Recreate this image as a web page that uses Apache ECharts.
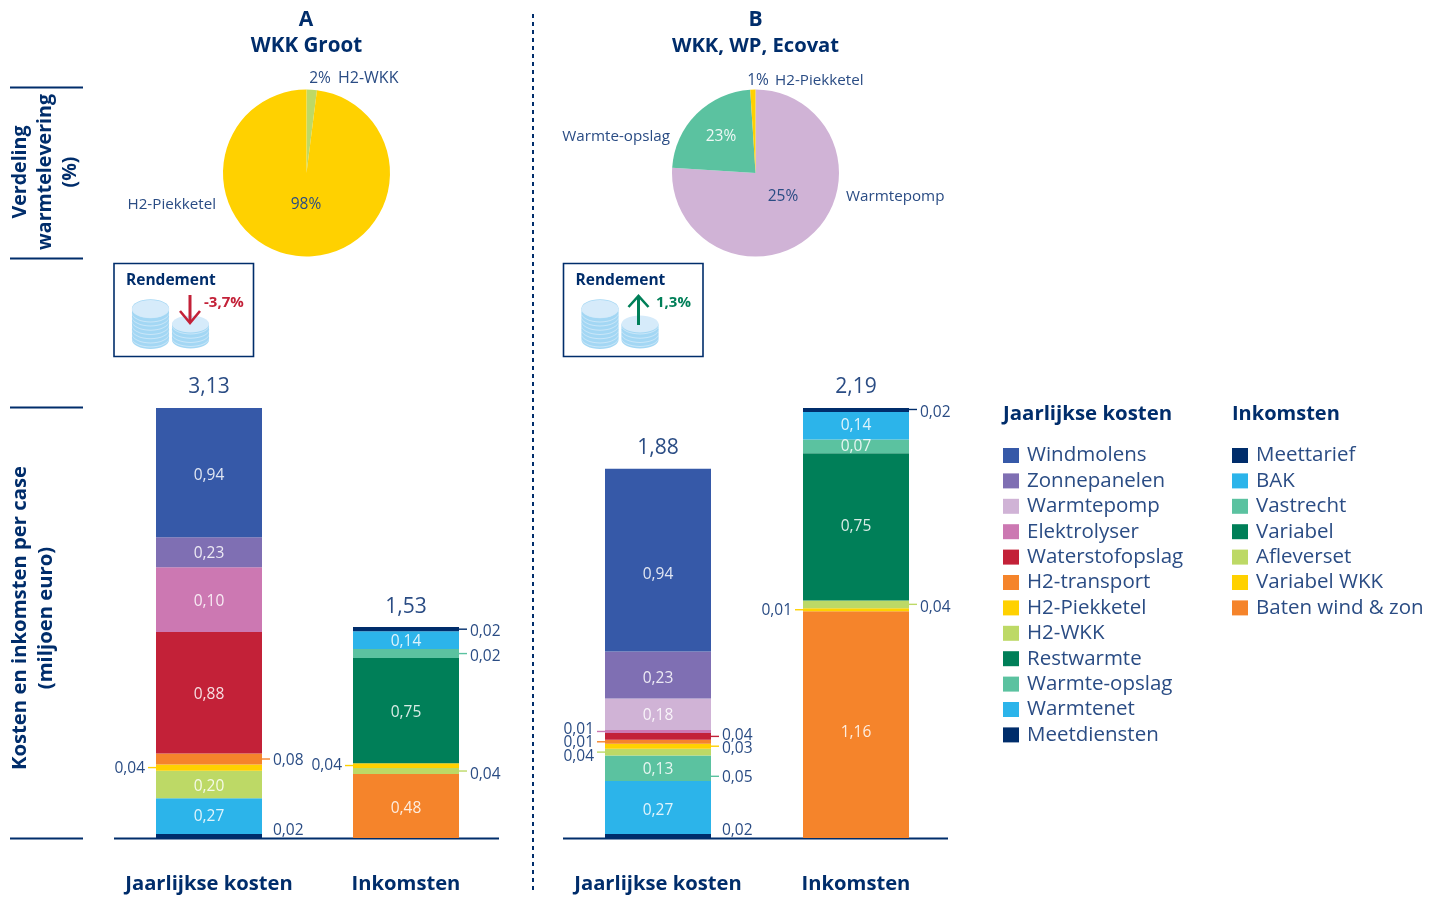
<!DOCTYPE html>
<html><head><meta charset="utf-8">
<script src="https://cdn.jsdelivr.net/npm/echarts@6/dist/echarts.min.js"></script>
<style>html,body{margin:0;background:#fff}#c{width:1438px;height:897px}</style></head>
<body><div id="c"></div>
<script>
// ---------- data ----------
const kostenLegend = ['Windmolens','Zonnepanelen','Warmtepomp','Elektrolyser','Waterstofopslag','H2-transport','H2-Piekketel','H2-WKK','Restwarmte','Warmte-opslag','Warmtenet','Meetdiensten'];
const inkomstenLegend = ['Meettarief','BAK','Vastrecht','Variabel','Afleverset','Variabel WKK','Baten wind & zon'];
const barCategories = ['Jaarlijkse kosten','Inkomsten'];

// stacks, bottom to top. Values are the heights, labels are the printed texts.
const aKostenNames  = ['Meetdiensten','Warmtenet','H2-WKK','H2-Piekketel','H2-transport','Waterstofopslag','Elektrolyser','Zonnepanelen','Windmolens'];
const aKostenValues = [0.03,0.26,0.20,0.045,0.08,0.885,0.47,0.22,0.94];
const aKostenLabels = ['','0,27','0,20','','','0,88','0,10','0,23','0,94'];
const aInkNames  = ['Baten wind & zon','Afleverset','Variabel WKK','Variabel','Vastrecht','BAK','Meettarief'];
const aInkValues = [0.465,0.045,0.035,0.765,0.065,0.13,0.03];
const aInkLabels = ['0,48','','','0,75','','0,14',''];
const bKostenNames  = ['Meetdiensten','Warmtenet','Warmte-opslag','Restwarmte','H2-WKK','H2-Piekketel','H2-transport','Waterstofopslag','Elektrolyser','Warmtepomp','Zonnepanelen','Windmolens'];
const bKostenValues = [0.02,0.27,0.13,0,0.035,0.025,0.02,0.035,0.015,0.16,0.24,0.93];
const bKostenLabels = ['','0,27','0,13','','','','','','','0,18','0,23','0,94'];
const bInkNames  = ['Baten wind & zon','Variabel WKK','Afleverset','Variabel','Vastrecht','BAK','Meettarief'];
const bInkValues = [1.155,0.015,0.04,0.75,0.07,0.14,0.025];
const bInkLabels = ['1,16','','','0,75','0,07','0,14',''];
const aTotals = ['3,13','1,53'];
const bTotals = ['1,88','2,19'];

const pieANames  = ['H2-WKK','H2-Piekketel'];
const pieAValues = [2,98];
const pieALabels = ['2%','98%'];
const pieBNames  = ['Warmtepomp','Warmte-opslag','H2-Piekketel'];
const pieBValues = [76,23,1];
const pieBLabels = ['25%','23%','1%'];

// ---------- style ----------
const navy='#002d6b', ink='#2a4c84', sans='"Open Sans",sans-serif';
const colors={Windmolens:'#3659a8',Zonnepanelen:'#7f6fb3',Warmtepomp:'#d0b3d6',Elektrolyser:'#cc78b2',Waterstofopslag:'#c32138','H2-transport':'#f5842b','H2-Piekketel':'#ffd100','H2-WKK':'#bdd966',Restwarmte:'#007f58','Warmte-opslag':'#5bc2a0',Warmtenet:'#2cb4ea',Meetdiensten:'#002d6b',
 Meettarief:'#002d6b',BAK:'#2cb4ea',Vastrecht:'#5bc2a0',Variabel:'#007f58',Afleverset:'#bdd966','Variabel WKK':'#ffd100','Baten wind & zon':'#f5842b'};

// callouts beside the bars: which segment they refer to, and how they are placed
const callouts=[
 [ // A
  {cat:0,seg:'Meetdiensten',text:'0,02',side:1,noTick:1,dy:-7},
  {cat:0,seg:'H2-transport',text:'0,08',side:1,dy:0},
  {cat:0,seg:'H2-Piekketel',text:'0,04',side:-1,dy:-1},
  {cat:1,seg:'Meettarief',text:'0,02',side:1,dy:1},
  {cat:1,seg:'Vastrecht',text:'0,02',side:1,dy:1.5},
  {cat:1,seg:'Variabel WKK',text:'0,04',side:-1,dy:-1},
  {cat:1,seg:'Afleverset',text:'0,04',side:1,dy:2}
 ],
 [ // B
  {cat:0,seg:'Meetdiensten',text:'0,02',side:1,noTick:1,dy:-7},
  {cat:0,seg:'Elektrolyser',text:'0,01',side:-1,dy:-3.5},
  {cat:0,seg:'Waterstofopslag',text:'0,04',side:1,dy:-2.5},
  {cat:0,seg:'H2-transport',text:'0,01',side:-1,dy:-1},
  {cat:0,seg:'H2-Piekketel',text:'0,03',side:1,dy:0.5},
  {cat:0,seg:'H2-WKK',text:'0,04',side:-1,dy:2.5},
  {cat:0,seg:'Warmte-opslag',text:'0,05',side:1,tickDy:8,dy:8},
  {cat:1,seg:'Meettarief',text:'0,02',side:1,dy:1.5},
  {cat:1,seg:'Variabel WKK',text:'0,01',side:-1,dy:-0.5},
  {cat:1,seg:'Afleverset',text:'0,04',side:1,dy:1.5}
 ]];
// printed labels that sit off the centre of their segment
const labelNudge={'0-Windmolens':2,'1-Windmolens':13,'1-Baten wind & zon':6,'1-Zonnepanelen':2,'1-Warmtenet':2,'1-BAK':-2,'1-Vastrecht':-1,'1-Variabel':-2,'0-Baten wind & zon':1,'0-H2-WKK':1,'0-Warmtenet':-1};

const panels=[
 {stacks:[[aKostenNames,aKostenValues,aKostenLabels],[aInkNames,aInkValues,aInkLabels]],totals:aTotals,max:3.13,left:110.5,width:394},
 {stacks:[[bKostenNames,bKostenValues,bKostenLabels],[bInkNames,bInkValues,bInkLabels]],totals:bTotals,max:2.19,left:559,width:396}
];
const BAR=106, TY=1.5;

const series=[], grids=[], xAxes=[], yAxes=[];
panels.forEach((p,g)=>{
  grids.push({left:p.left,width:p.width,top:408,height:430});
  xAxes.push({gridIndex:g,type:'category',data:barCategories,axisLine:{show:false},axisTick:{show:false},
    axisLabel:{margin:36.5,interval:0,color:navy,fontFamily:sans,fontWeight:'bold',fontSize:20.2}});
  yAxes.push({gridIndex:g,type:'value',min:0,max:p.max,show:false,splitLine:{show:false}});
  const mids={0:{},1:{}};
  p.stacks.forEach(([names,vals,labs],cat)=>{
    let cum=0;
    names.forEach((n,i)=>{
      mids[cat][n]=cum+vals[i]/2; cum+=vals[i];
      const d=[ '-','-' ]; d[cat]=vals[i];
      series.push({type:'bar',name:n,xAxisIndex:g,yAxisIndex:g,stack:'s'+g,barWidth:BAR,data:d,
        itemStyle:{color:colors[n]},
        label:{show:!!labs[i],position:'inside',offset:[0,TY+(labelNudge[g+'-'+n]||0)],formatter:()=>labs[i],color:'rgba(255,255,255,0.85)',fontFamily:sans,fontSize:15.5,fontWeight:400}});
    });
  });
  series.push({type:'scatter',name:'Totaal'+g,xAxisIndex:g,yAxisIndex:g,symbolSize:0,clip:false,silent:true,itemStyle:{opacity:1},
    data:p.totals.map((t,c)=>[c,p.stacks[c][1].reduce((a,b)=>a+b,0)]),
    label:{show:true,position:'top',distance:10,formatter:q=>p.totals[q.dataIndex],color:ink,fontFamily:sans,fontSize:21,fontWeight:400}});
  const cs=callouts[g];
  series.push({type:'custom',name:'Callouts'+g,xAxisIndex:g,yAxisIndex:g,silent:true,clip:false,
    encode:{x:0,y:1},
    data:cs.map((c,i)=>[c.cat,mids[c.cat][c.seg],i]),
    renderItem:(params,api)=>{
      const c=cs[api.value(2)], pt=api.coord([api.value(0),api.value(1)]);
      const x0=pt[0]+c.side*BAR/2, x1=x0+c.side*8, ty=pt[1]+(c.tickDy||0);
      const kids=[];
      if(!c.noTick) kids.push({type:'line',shape:{x1:x0,y1:ty,x2:x1,y2:ty},style:{stroke:colors[c.seg],lineWidth:1.4}});
      kids.push({type:'text',style:{x:x0+c.side*11,y:pt[1]+(c.dy||0)+TY,text:c.text,align:c.side>0?'left':'right',verticalAlign:'middle',
        fill:ink,font:'400 15.5px '+sans}});
      return {type:'group',children:kids};
    }});
});

function pie(center,names,vals,labs,layout,colorsText){
  return {type:'pie',center:center,radius:[0,83.5],startAngle:90,clockwise:true,animation:false,silent:true,
    data:names.map((n,i)=>({name:n,value:vals[i],itemStyle:{color:colors[n]},
      label:{color:colorsText[i],formatter:()=>labs[i]}})),
    label:{show:true,position:'inside',fontFamily:sans,fontSize:15.5,fontWeight:400},
    labelLine:{show:false},
    labelLayout:q=>({x:layout[q.dataIndex][0],y:layout[q.dataIndex][1]+TY,align:'center',verticalAlign:'middle',hideOverlap:false})};
}
series.push(pie([306.5,173],pieANames,pieAValues,pieALabels,[[320,77],[306,203]],[ink,ink]));
series.push(pie([755.5,173],pieBNames,pieBValues,pieBLabels,[[783,195],[721,135],[758,79]],[ink,'rgba(255,255,255,0.9)',ink]));

// ---------- non-data furniture ----------
const G=[];
const txt=(x,y,text,opt={})=>G.push({type:'text',x:x,y:opt.rot?y:y+TY,rotation:opt.rot||0,silent:true,style:{text:text,align:opt.align||'center',verticalAlign:'middle',
   fill:opt.fill||navy,font:(opt.weight||'bold')+' '+(opt.size||20)+'px '+sans,lineHeight:opt.lh}});
const line=(x1,y1,x2,y2,w,dash,c)=>G.push({type:'line',silent:true,shape:{x1,y1,x2,y2},style:{stroke:c||navy,lineWidth:w||2,lineDash:dash}});
txt(306,19,'A',{size:21}); txt(306.5,45,'WKK Groot',{size:20.6});
txt(755.5,19,'B',{size:21}); txt(755.5,45,'WKK, WP, Ecovat',{size:20.2});
[87.5,258.5,407.5,838.5].forEach(y=>line(10,y,83,y,2));
line(114,838.5,499,838.5,2); line(563,838.5,948,838.5,2);
line(533,14,533,892,2,[4,4]);
txt(45.5,172,'Verdeling\nwarmtelevering\n(%)',{rot:Math.PI/2,lh:25,size:19.6});
txt(33.5,618,'Kosten en inkomsten per case\n(miljoen euro)',{rot:Math.PI/2,lh:26,size:20.3});
const thin={weight:'400',size:15.2,fill:ink,align:'left'};
txt(338,77,'H2-WKK',{...thin,size:16}); txt(216,203,'H2-Piekketel',{...thin,align:'right'});
txt(775,79,'H2-Piekketel',thin); txt(670,135,'Warmte-opslag',{...thin,align:'right'}); txt(846,195,'Warmtepomp',thin);
txt(1003,413,'Jaarlijkse kosten',{align:'left',size:20.4}); txt(1232,413,'Inkomsten',{align:'left',size:20});

function coins(cx,topY,botY,rx,ry){
  for(let y=botY;y>topY;y-=4.2){
    G.push({type:'ellipse',silent:true,shape:{cx:cx,cy:y,rx:rx,ry:ry},style:{fill:'#a3d7f4'}});
    G.push({type:'ellipse',silent:true,shape:{cx:cx,cy:y-1.4,rx:rx,ry:ry},style:{fill:'#c9e6f8'}});
    G.push({type:'ellipse',silent:true,shape:{cx:cx,cy:y-2.4,rx:rx,ry:ry},style:{fill:'#a3d7f4'}});
  }
  G.push({type:'ellipse',silent:true,shape:{cx:cx,cy:topY,rx:rx,ry:ry},style:{fill:'#d6ebfa'}});
}
function box(dx,color,up,val,valX){
  G.push({type:'rect',silent:true,shape:{x:114+dx,y:263.5,width:139.5,height:93},style:{fill:'#fff',stroke:navy,lineWidth:1.6}});
  txt(126+dx,279,'Rendement',{align:'left',size:15.5});
  coins(150.5+dx,309,340,18.5,9);
  coins(190.5+dx,324,340,18.5,8.5);
  const cx=190+dx+(up?-1:0);
  if(up){ line(cx,325,cx,297,3,null,color);
    G.push({type:'polyline',silent:true,shape:{points:[[cx-10,307],[cx,296],[cx+10,307]]},style:{stroke:color,lineWidth:2.6,fill:'none'}});
  }else{ line(cx,295,cx,322,3,null,color);
    G.push({type:'polyline',silent:true,shape:{points:[[cx-10,311],[cx,323],[cx+10,311]]},style:{stroke:color,lineWidth:2.6,fill:'none'}});
  }
  txt(valX,301.5,val,{align:'left',size:15,fill:color});
}
box(0,'#c32138',false,'-3,7%',204);
box(449.5,'#007f58',true,'1,3%',656);

const legendBase={orient:'vertical',icon:'rect',itemWidth:16,itemHeight:15,itemGap:4.4,selectedMode:false,
  textStyle:{color:ink,fontFamily:sans,fontSize:20.5,fontWeight:400,padding:[0,0,0,3]}};

const chart=echarts.init(document.getElementById('c'));
chart.setOption({animation:false,backgroundColor:'#fff',grid:grids,xAxis:xAxes,yAxis:yAxes,series:series,graphic:{elements:G},
  legend:[{...legendBase,left:998,top:440,data:kostenLegend},{...legendBase,left:1227,top:440,data:inkomstenLegend}],
  tooltip:{show:false}});
</script></body></html>
